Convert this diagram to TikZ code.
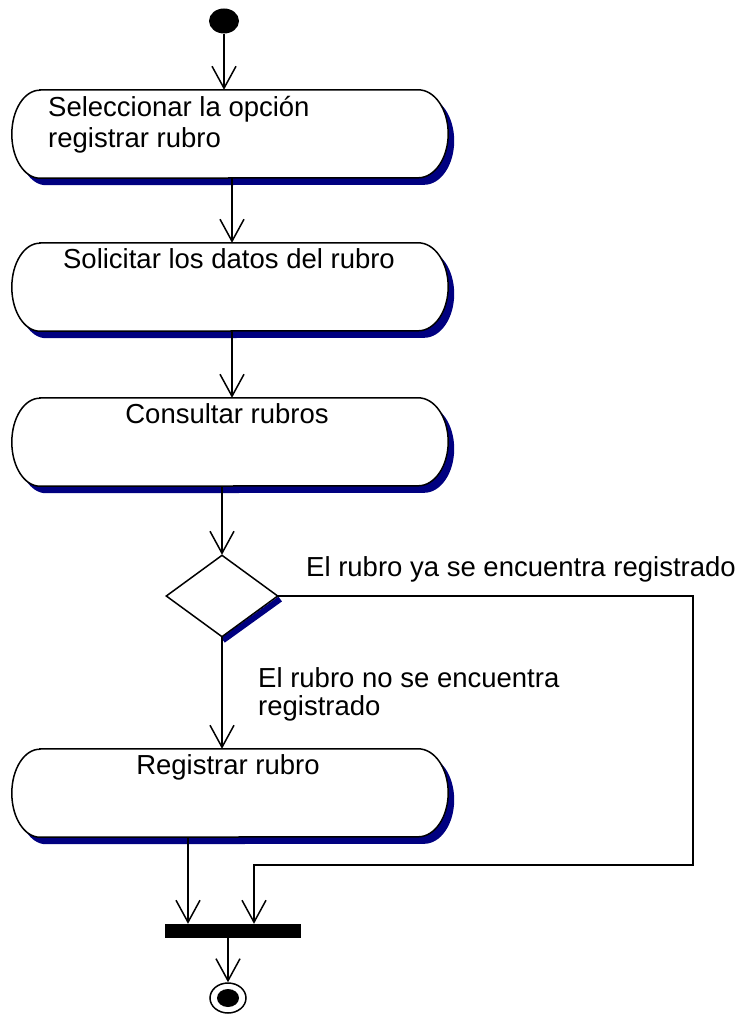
\documentclass[tikz,border=0pt]{standalone}
\usepackage{fontspec}
\setmainfont{Liberation Sans}
\usetikzlibrary{arrows.meta,shapes.geometric,calc}
\definecolor{shadownavy}{RGB}{0,0,128}
\tikzset{
  boxarea/.style={rectangle,draw=none,inner sep=0pt,minimum width=436pt,minimum height=88pt},
  boxline/.style={draw=black,line width=1.5pt,fill=white},
  flow/.style={line width=1.5pt,-{Straight Barb[length=22pt,width=24pt,line width=1.5pt]}},
  txt/.style={inner sep=0pt,font=\fontsize{27.5}{31}\selectfont},
}
\newcommand\capsulebox[1]{%
  \fill[shadownavy] ($(#1.north west)+(34,-7)$) -- ($(#1.north east)+(-24,-7)$)
     arc[start angle=90,end angle=-90,x radius=30pt,y radius=44pt]
     -- ($(#1.south west)+(34,-7)$)
     arc[start angle=270,end angle=90,x radius=28pt,y radius=44pt] -- cycle;
  \path[boxline] ($(#1.north west)+(28,0)$) -- ($(#1.north east)+(-30,0)$)
     arc[start angle=90,end angle=-90,x radius=30pt,y radius=44pt]
     -- ($(#1.south west)+(28,0)$)
     arc[start angle=270,end angle=90,x radius=28pt,y radius=44pt] -- cycle;}
\begin{document}
\begin{tikzpicture}[x=1pt,y=1pt]
\useasboundingbox (0,0) rectangle (744,-1016);
% nodes
\node[ellipse,fill=black,inner sep=0pt,minimum width=30pt,minimum height=25pt] (start) at (224,-21) {};
\node[boxarea] (b1) at (230,-134) {};
\node[boxarea] (b2) at (230,-287) {};
\node[boxarea] (b3) at (230,-442) {};
\node[boxarea] (b4) at (230,-793) {};
\capsulebox{b1}
\capsulebox{b2}
\capsulebox{b3}
\capsulebox{b4}
\node[txt,anchor=base west,align=left] (t1) at (48,-148) {Seleccionar la opción\\registrar rubro};
\node[txt,anchor=base] (t2) at (229,-268) {Solicitar los datos del rubro};
\node[txt,anchor=base] (t3) at (227,-423) {Consultar rubros};
\node[txt,anchor=base] (t4) at (228,-774) {Registrar rubro};
% decision
\node[diamond,inner sep=0pt,minimum width=112pt,minimum height=82pt] (d) at (222,-596) {};
\draw[shadownavy,line width=6pt] ([shift={(2,-3)}]d.east) -- ([shift={(1,-3)}]d.south);
\node[diamond,draw=black,fill=white,line width=1.5pt,inner sep=0pt,minimum width=112pt,minimum height=82pt] at (222,-596) {};
% join bar and end
\node[rectangle,fill=black,inner sep=0pt,minimum width=136pt,minimum height=14pt] (bar) at (233,-931) {};
\node[ellipse,draw=black,line width=1.5pt,fill=white,inner sep=0pt,minimum width=36pt,minimum height=30pt] (end) at (228,-998) {};
\node[ellipse,fill=black,inner sep=0pt,minimum width=22pt,minimum height=18pt] (endin) at (228,-998) {};
\coordinate (c2) at (693,-865);
% connectors
\draw[flow] (start.south) -- (start.south |- b1.north);
\draw[flow] ([xshift=2pt]b1.south) -- ([xshift=2pt]b2.north);
\draw[flow] ([xshift=2pt]b2.south) -- ([xshift=2pt]b3.north);
\draw[flow] (d.north |- b3.south) -- (d.north);
\draw[flow] (d.south) -- (d.south |- b4.north);
\draw[flow] ([xshift=-42pt]b4.south) -- ([xshift=-45pt]bar.north);
\draw[flow] (d.east) -| (c2) -| ([xshift=21pt]bar.north);
\draw[flow] (end.north |- bar.south) -- (end.north);
% labels
\node[txt,anchor=base west] (l1) at (306,-576) {El rubro ya se encuentra registrado};
\node[txt,anchor=base west,align=left,font=\fontsize{27.5}{28}\selectfont] (l2) at (258,-715) {El rubro no se encuentra\\registrado};
\end{tikzpicture}
\end{document}
